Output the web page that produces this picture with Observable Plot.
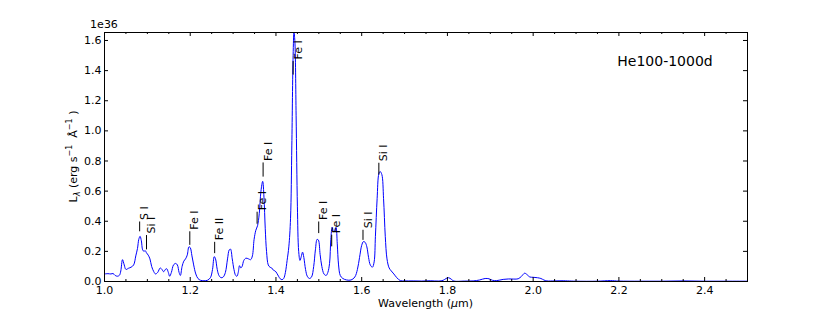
<!DOCTYPE html>
<html>
<head>
<meta charset="utf-8">
<script src="https://cdn.jsdelivr.net/npm/d3@7"></script>
<script src="https://cdn.jsdelivr.net/npm/@observablehq/plot@0.6"></script>
<style>
  html, body { margin: 0; padding: 0; background: #fff; }
  #chart { width: 830px; height: 312px; }
</style>
</head>
<body>
<div id="chart"></div>
<script>
// Wavelength in micrometres
const wavelength = [
  1.000, 1.008, 1.015, 1.020, 1.025, 1.030, 1.035, 1.038, 1.042, 1.046,
  1.050, 1.056, 1.062, 1.068, 1.073, 1.077, 1.080, 1.083, 1.086, 1.089,
  1.092, 1.095, 1.098, 1.102, 1.106, 1.110, 1.115, 1.119, 1.124, 1.130,
  1.134, 1.138, 1.142, 1.145, 1.149, 1.152, 1.156, 1.161, 1.166, 1.170,
  1.174, 1.177, 1.181, 1.185, 1.189, 1.193, 1.197, 1.200, 1.204, 1.208,
  1.213, 1.218, 1.224, 1.232, 1.240, 1.247, 1.252, 1.256, 1.259, 1.263,
  1.267, 1.272, 1.277, 1.282, 1.287, 1.291, 1.294, 1.298, 1.302, 1.306,
  1.309, 1.312, 1.315, 1.318, 1.321, 1.325, 1.330, 1.336, 1.341, 1.345,
  1.349, 1.353, 1.357, 1.361, 1.365, 1.369, 1.372, 1.375, 1.378, 1.382,
  1.386, 1.390, 1.394, 1.398, 1.402, 1.406, 1.410, 1.414, 1.418, 1.422,
  1.426, 1.430, 1.434, 1.437, 1.440, 1.442, 1.444, 1.447, 1.450, 1.453,
  1.456, 1.459, 1.462, 1.465, 1.469, 1.473, 1.478, 1.483, 1.488, 1.492,
  1.496, 1.499, 1.503, 1.507, 1.512, 1.517, 1.521, 1.525, 1.528, 1.531,
  1.534, 1.537, 1.540, 1.543, 1.546, 1.550, 1.556, 1.565, 1.575, 1.584,
  1.590, 1.595, 1.600, 1.604, 1.608, 1.612, 1.616, 1.620, 1.625, 1.629,
  1.632, 1.636, 1.640, 1.643, 1.647, 1.651, 1.655, 1.659, 1.664, 1.669,
  1.675, 1.682, 1.690, 1.700, 1.720, 1.740, 1.760, 1.780, 1.790, 1.797,
  1.803, 1.809, 1.815, 1.840, 1.860, 1.875, 1.888, 1.897, 1.905, 1.915,
  1.930, 1.943, 1.955, 1.965, 1.973, 1.980, 1.986, 1.992, 2.000, 2.010,
  2.018, 2.025, 2.032, 2.050, 2.070, 2.080, 2.100, 2.150, 2.180, 2.200,
  2.250, 2.300, 2.350, 2.400, 2.450, 2.500
];
// Luminosity L_lambda in units of 1e36 erg s^-1 A^-1
const luminosity = [
  0.050, 0.052, 0.050, 0.053, 0.040, 0.035, 0.042, 0.070, 0.145, 0.110,
  0.080, 0.088, 0.095, 0.110, 0.170, 0.220, 0.280, 0.300, 0.270, 0.210,
  0.200, 0.205, 0.190, 0.175, 0.150, 0.100, 0.065, 0.050, 0.060, 0.090,
  0.080, 0.065, 0.080, 0.085, 0.060, 0.035, 0.060, 0.110, 0.120, 0.110,
  0.060, 0.040, 0.100, 0.135, 0.150, 0.175, 0.230, 0.225, 0.170, 0.110,
  0.050, 0.020, 0.008, 0.005, 0.008, 0.025, 0.080, 0.165, 0.150, 0.080,
  0.040, 0.025, 0.030, 0.060, 0.150, 0.210, 0.215, 0.150, 0.080, 0.040,
  0.035, 0.060, 0.105, 0.090, 0.100, 0.140, 0.155, 0.150, 0.145, 0.170,
  0.280, 0.340, 0.370, 0.450, 0.600, 0.665, 0.560, 0.350, 0.200, 0.110,
  0.095, 0.090, 0.075, 0.070, 0.055, 0.035, 0.018, 0.012, 0.020, 0.060,
  0.140, 0.230, 0.420, 0.900, 1.500, 1.653, 1.600, 1.100, 0.500, 0.200,
  0.140, 0.165, 0.195, 0.160, 0.080, 0.035, 0.020, 0.030, 0.100, 0.210,
  0.280, 0.275, 0.180, 0.100, 0.050, 0.040, 0.060, 0.120, 0.280, 0.360,
  0.330, 0.340, 0.360, 0.250, 0.110, 0.040, 0.020, 0.010, 0.010, 0.030,
  0.080, 0.160, 0.240, 0.265, 0.260, 0.230, 0.160, 0.110, 0.095, 0.130,
  0.300, 0.550, 0.715, 0.730, 0.710, 0.550, 0.300, 0.150, 0.090, 0.070,
  0.050, 0.025, 0.006, 0.004, 0.004, 0.003, 0.005, 0.003, 0.008, 0.020,
  0.025, 0.015, 0.003, 0.003, 0.004, 0.010, 0.020, 0.018, 0.008, 0.006,
  0.014, 0.017, 0.016, 0.018, 0.035, 0.055, 0.045, 0.030, 0.028, 0.025,
  0.020, 0.010, 0.004, 0.004, 0.005, 0.004, 0.002, 0.002, 0.006, 0.003,
  0.002, 0.002, 0.004, 0.002, 0.002, 0.002
];

// Line identifications
const lineNames = ["S I", "Si I", "Fe I", "Fe II", "Fe I", "Fe I", "Fe I", "Fe I", "Fe I", "Si I", "Si I"];
const lineX     = [1.082, 1.098, 1.199, 1.257, 1.356, 1.370, 1.440, 1.4997, 1.530, 1.603, 1.640];
const lineLo    = [0.330, 0.210, 0.240, 0.185, 0.380, 0.693, 1.370, 0.318, 0.230, 0.273, 0.707];
const lineHi    = [0.395, 0.305, 0.330, 0.260, 0.460, 0.787, 1.460, 0.395, 0.307, 0.340, 0.785];

// Axis ticks
const xTicks = [1.0, 1.2, 1.4, 1.6, 1.8, 2.0, 2.2, 2.4];
const xMinorTicks = [1.05, 1.1, 1.15, 1.25, 1.3, 1.35, 1.45, 1.5, 1.55, 1.65, 1.7, 1.75,
  1.85, 1.9, 1.95, 2.05, 2.1, 2.15, 2.25, 2.3, 2.35, 2.45];
const yTicks = [0.0, 0.2, 0.4, 0.6, 0.8, 1.0, 1.2, 1.4, 1.6];

const yMax = 1.653;
const plotTitle = "He100-1000d";
const yScaleNote = "1e36";

const W = 830, H = 312, mL = 104, mR = 83, mT = 32, mB = 31;
const innerW = W - mL - mR, innerH = H - mT - mB;

const spectrum = wavelength.map((x, i) => ({x, y: luminosity[i]}));
const labels = lineNames.map((name, i) => ({name, x: lineX[i], lo: lineLo[i], hi: lineHi[i]}));
const fmt = d3.format(".1f");

const chart = Plot.plot({
  width: W, height: H,
  marginLeft: mL, marginRight: mR, marginTop: mT, marginBottom: mB,
  style: {fontFamily: "DejaVu Sans", fontSize: "11px", color: "black", background: "white"},
  x: {domain: [1.0, 2.5]},
  y: {domain: [0, yMax]},
  marks: [
    Plot.line(spectrum, {x: "x", y: "y", stroke: "#0000ff", strokeWidth: 1, curve: "catmull-rom", clip: true}),
    Plot.ruleX(labels, {x: "x", y1: "lo", y2: "hi", stroke: "black", strokeWidth: 1}),
    Plot.text(labels, {x: "x", y: "hi", text: "name", rotate: -90, textAnchor: "start", lineAnchor: "middle", dx: 5, dy: -2, fontSize: 11, fill: "black"}),
    Plot.ruleX(xTicks, {x: d => d, insetTop: innerH - 4, stroke: "black"}),
    Plot.ruleX(xTicks, {x: d => d, insetBottom: innerH - 4, stroke: "black"}),
    Plot.ruleX(xMinorTicks, {x: d => d, insetTop: innerH - 2, stroke: "black"}),
    Plot.ruleX(xMinorTicks, {x: d => d, insetBottom: innerH - 2, stroke: "black"}),
    Plot.ruleY(yTicks, {y: d => d, insetRight: innerW - 4, stroke: "black"}),
    Plot.ruleY(yTicks, {y: d => d, insetLeft: innerW - 4, stroke: "black"}),
    Plot.axisX(xTicks, {tickSize: 0, tickPadding: 5, tickFormat: fmt, label: null, fontSize: 11}),
    Plot.axisY(yTicks, {tickSize: 0, tickPadding: 3, tickFormat: fmt, label: null, fontSize: 11}),
    Plot.frame({stroke: "black"})
  ]
});

const svg = d3.select(chart);
// offset note
svg.append("text").attr("x", 104).attr("y", 28).attr("font-size", 11).attr("fill", "black").text(yScaleNote);
// title inside axes
svg.append("text").attr("x", 665).attr("y", 66).attr("font-size", 14).attr("text-anchor", "middle").attr("fill", "black").text(plotTitle);
// x label
const xl = svg.append("text").attr("x", mL + innerW / 2).attr("y", 307).attr("font-size", 11).attr("text-anchor", "middle").attr("fill", "black");
xl.append("tspan").text("Wavelength (");
xl.append("tspan").attr("font-style", "italic").text("μ");
xl.append("tspan").text("m)");
// y label
const yl = svg.append("text").attr("transform", `translate(77,${mT + innerH / 2}) rotate(-90)`).attr("font-size", 11).attr("text-anchor", "middle").attr("fill", "black");
yl.append("tspan").text("L");
yl.append("tspan").attr("font-size", 8).attr("font-style", "italic").attr("dy", 3).text("λ");
yl.append("tspan").attr("dy", -3).text(" (erg s");
yl.append("tspan").attr("font-size", 8).attr("dy", -5).text("−1");
yl.append("tspan").attr("dy", 5).text("  Å");
yl.append("tspan").attr("font-size", 8).attr("dy", -5).text("−1");
yl.append("tspan").attr("dy", 5).text(" )");

document.getElementById("chart").appendChild(chart);
</script>
</body>
</html>
